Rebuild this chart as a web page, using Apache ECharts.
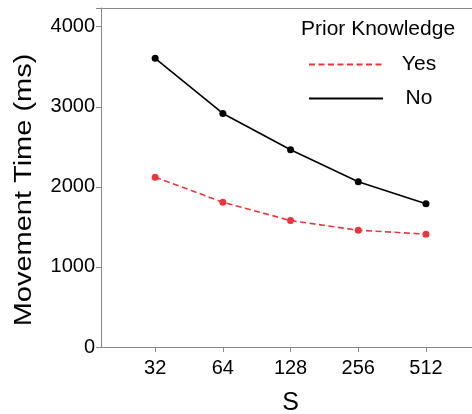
<!DOCTYPE html>
<html>
<head>
<meta charset="utf-8">
<script src="https://cdn.jsdelivr.net/npm/echarts@6/dist/echarts.min.js"></script>
<style>html,body{margin:0;padding:0;background:#fff;overflow:hidden}#c{width:472px;height:414px}</style>
</head>
<body>
<div id="c"></div>
<script>
var categories = ['32', '64', '128', '256', '512'];
var positions = [1, 2, 3, 4, 5];
var yesValues = [2121, 1809, 1579, 1459, 1409];
var noValues = [3605, 2917, 2463, 2063, 1788];
var yTicks = [0, 1000, 2000, 3000, 4000];

var FONT = 'Liberation Sans, Arial, sans-serif';
var chart = echarts.init(document.getElementById('c'), null, {renderer: 'canvas', width: 472, height: 414});
function pairs(vals) { return positions.map(function (p, i) { return [p, vals[i]]; }); }

chart.setOption({
  animation: false,
  backgroundColor: '#fff',
  grid: {left: 101, right: 0, top: 8, bottom: 67, containLabel: false, outerBoundsMode: 'none'},
  legend: {
    orient: 'vertical',
    left: 303, top: 49,
    itemWidth: 74, itemHeight: 14, itemGap: 13,
    itemStyle: {opacity: 0},
    selectedMode: false,
    data: ['Yes', 'No'],
    formatter: function (n) { return '{c|' + n + '}'; },
    textStyle: {
      fontFamily: FONT, fontSize: 21, color: '#000',
      rich: {c: {fontFamily: FONT, fontSize: 21, color: '#000', width: 62, align: 'center'}}
    }
  },
  graphic: [{
    type: 'text', left: 301, top: 19,
    style: {text: 'Prior Knowledge', font: '21px Liberation Sans, Arial, sans-serif', fill: '#000'}
  }, {
    type: 'text', x: 25, y: 190, rotation: Math.PI / 2, scaleX: 1.26,
    style: {text: 'Movement Time (ms)', font: '23px Liberation Sans, Arial, sans-serif', fill: '#000',
            align: 'center', verticalAlign: 'middle'}
  }],
  xAxis: [{
    type: 'value', min: 0.2, max: 5.68,
    name: 'S', nameLocation: 'middle', nameGap: 44,
    nameTextStyle: {fontFamily: FONT, fontSize: 25, color: '#000', padding: [0, 0, 0, 8]},
    axisLine: {show: true, lineStyle: {color: '#888', width: 1}},
    axisTick: {show: true, length: 5, lineStyle: {color: '#888'}, customValues: positions},
    axisLabel: {
      show: true, margin: 11, fontFamily: FONT, fontSize: 20, color: '#000',
      customValues: positions,
      formatter: function (v) { var i = positions.indexOf(Math.round(v)); return i >= 0 ? categories[i] : ''; }
    },
    splitLine: {show: false}
  }, {
    type: 'value', position: 'top', min: 0.2, max: 5.68,
    axisLine: {show: true, lineStyle: {color: '#888', width: 1}},
    axisTick: {show: false}, axisLabel: {show: false}, splitLine: {show: false}
  }],
  yAxis: {
    type: 'value', min: 0, max: 4234, interval: 1000,
    axisLine: {show: true, lineStyle: {color: '#888', width: 1}},
    axisTick: {show: true, length: 5, lineStyle: {color: '#888'}},
    axisLabel: {
      margin: 6, fontFamily: FONT, fontSize: 20, color: '#000',
      formatter: function (v) { return yTicks.indexOf(v) >= 0 ? String(v) : ''; }
    },
    splitLine: {show: false}
  },
  series: [{
    name: 'Yes', type: 'line', data: pairs(yesValues),
    symbol: 'circle', symbolSize: 7,
    itemStyle: {color: '#e8363e'},
    lineStyle: {color: '#e8363e', width: 1.6, type: [6, 3.5]}
  }, {
    name: 'No', type: 'line', data: pairs(noValues),
    symbol: 'circle', symbolSize: 7,
    itemStyle: {color: '#000'},
    lineStyle: {color: '#000', width: 1.6}
  }]
});
</script>
</body>
</html>
